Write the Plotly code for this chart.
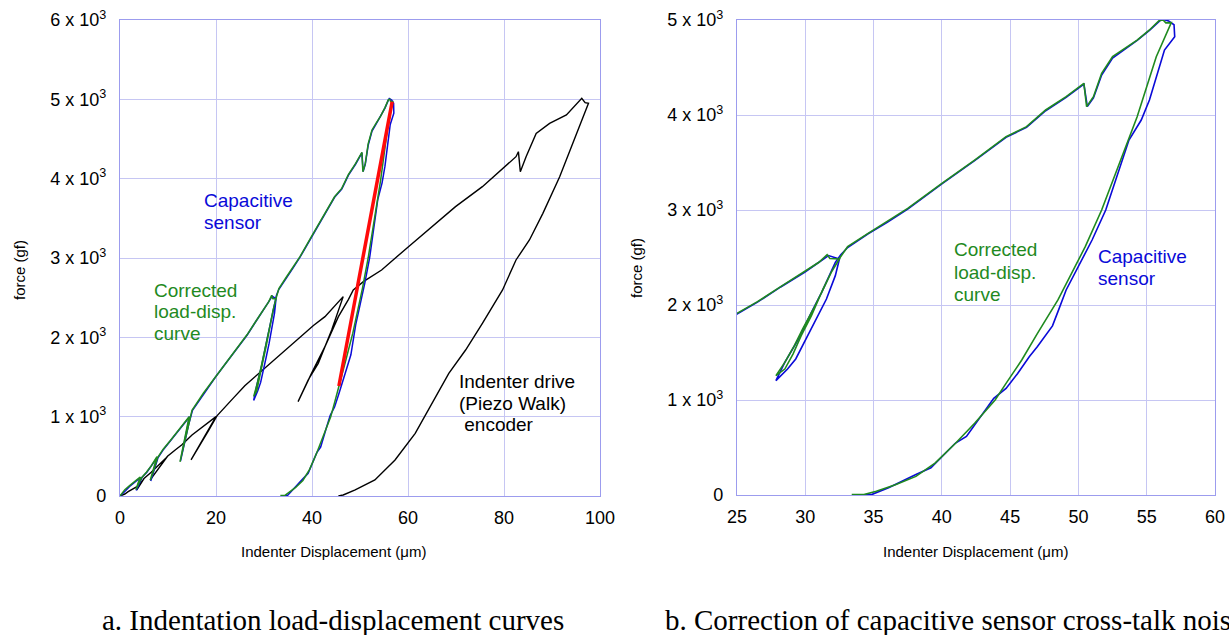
import plotly.graph_objects as go

W, H = 1229, 635

# ---------------- data ----------------
# Corrected load-displacement curve (green)
corr_x = [0, 0.5, 1.0, 2.0, 3.0, 4.2, 3.3, 3.8, 4.5, 5.5, 6.5, 7.7, 6.3, 7.0, 7.8,
          9.0, 10.5, 12.0, 13.5, 14.4, 12.5, 13.3, 14.2, 15.0, 17.4, 19.9, 21.5, 23.5,
          25.0, 26.5, 28.2, 29.95, 31.0, 31.6, 31.8, 32.5,
          31.9, 31.2, 30.6, 29.8, 29.2, 28.5, 27.97, 27.85,
          28.5, 29.1, 29.7, 30.45, 31.3, 31.9, 32.5,
          33.1, 34.6, 36.0, 37.5, 40.0, 42.4, 44.7, 46.2, 47.6, 49.1, 50.4, 50.6, 51.1,
          51.7, 52.5, 53.4, 54.3, 55.2, 55.9, 56.2, 56.4, 56.8,
          55.7, 54.3, 53.1, 51.7, 50.5, 49.4, 48.5, 47.0, 45.85, 44.7, 43.9, 42.4, 41.0,
          39.5, 38.1, 36.6, 35.2, 34.3, 33.4]
corr_y = [0, 40, 80, 130, 180, 240, 80, 140, 230, 300, 380, 495, 200, 320, 480,
          590, 700, 820, 930, 1000, 430, 650, 900, 1080, 1298, 1500, 1638, 1800,
          1912, 2035, 2193, 2350, 2450, 2530, 2490, 2484,
          2344, 2133, 1958, 1747, 1572, 1396, 1291, 1256,
          1326, 1484, 1677, 1888, 2168, 2344, 2490,
          2614, 2754, 2877, 3017, 3281, 3526, 3772, 3877, 4053, 4193, 4333, 4088, 4193,
          4439, 4614, 4702, 4789, 4895, 4993, 5000, 4970, 4972,
          4614, 3982, 3526, 3000, 2614, 2298, 2053, 1702, 1421, 1175, 1000, 755, 545,
          336, 196, 108, 40, 5, 5]

# Capacitive sensor (blue)
cap_x = [0, 0.6, 1.2, 2.0, 3.0, 4.3, 3.4, 3.9, 4.6, 5.6, 6.6, 7.8, 6.4, 7.1, 7.9,
         9.1, 10.6, 12.1, 13.6, 14.5, 12.6, 13.4, 14.3, 15.1, 17.5, 19.9, 21.5, 23.5,
         25.0, 26.5, 28.2, 29.95, 31.0, 31.7, 32.5,
         32.2, 31.55, 31.06, 30.45, 29.7, 29.3, 28.7, 27.85,
         28.5, 29.5, 30.45, 31.2, 32.2, 32.6,
         33.1, 34.6, 36.0, 37.5, 40.0, 42.4, 44.7, 46.2, 47.6, 49.1, 50.4, 50.65, 51.1,
         51.7, 52.5, 53.4, 54.3, 55.2, 55.9, 56.1, 56.6, 57.0, 57.05,
         56.3, 55.2, 54.6, 53.7, 52.6, 52.0, 51.0, 50.0, 49.1, 48.5, 48.1, 47.0, 46.4,
         45.55, 44.7, 43.8, 43.0, 41.8, 41.0, 39.2, 38.1, 36.1, 34.9, 34.0]
cap_y = [0, 30, 70, 120, 170, 235, 70, 140, 235, 300, 380, 490, 190, 320, 480,
         590, 700, 820, 930, 1000, 440, 660, 900, 1080, 1295, 1500, 1630, 1795,
         1905, 2030, 2190, 2345, 2450, 2520, 2484,
         2309, 2063, 1923, 1747, 1537, 1432, 1326, 1204,
         1396, 1642, 1923, 2133, 2449, 2530,
         2605, 2750, 2870, 3010, 3275, 3520, 3765, 3870, 4045, 4185, 4325, 4090, 4180,
         4420, 4600, 4695, 4785, 4890, 4990, 5010, 4990, 4950, 4825,
         4684, 4158, 3947, 3737, 3246, 3000, 2684, 2403, 2158, 1930, 1780, 1563, 1456,
         1279, 1122, 1017, 861, 617, 547, 286, 216, 77, 7, 0]

# Indenter drive (Piezo Walk) encoder (black)
enc_x = [0, 1.0, 1.7, 3.0, 3.8, 4.9, 3.5, 4.2, 5.0, 6.5, 8.0, 9.75, 6.3, 7.5, 8.8, 9.9,
         11.5, 12.9, 15.0, 17.5, 20.0, 14.8, 16.5, 18.5, 20.2,
         21.95, 23.6, 26.0, 29.9, 33.6, 35.5, 37.8, 40.3, 42.7, 45.2, 46.5,
         44.1, 41.3, 39.2, 37.1, 37.4, 39.9, 42.7, 45.5, 47.6,
         48.6, 50.7, 54.5, 60.1, 65.0, 69.9, 75.5, 79.7, 82.5, 83.0, 83.4, 84.6, 86.7,
         89.5, 93.0, 96.2, 96.9, 97.6,
         95.1, 91.6, 88.1, 85.3, 82.5, 79.7, 75.5, 72.0, 68.5, 65.0, 61.5, 57.3, 53.1,
         49.0, 46.5, 45.5]
enc_y = [0, 25, 55, 100, 127, 210, 76, 130, 220, 300, 390, 490, 203, 300, 410, 500,
         580, 645, 770, 880, 1000, 456, 620, 830, 1010,
         1130, 1234, 1390, 1596, 1798, 1894, 2008, 2149, 2261, 2430, 2513,
         2092, 1672, 1462, 1189, 1231, 1546, 1882, 2261, 2479,
         2597, 2702, 2849, 3143, 3395, 3647, 3899, 4130, 4277, 4340, 4088, 4277, 4571,
         4697, 4803, 5013, 4958, 4950,
         4571, 4025, 3563, 3227, 2975, 2597, 2176, 1840, 1546, 1168, 790, 454, 202,
         76, 13, 0]

# Unloading fit (red)
fit_x = [45.6, 51.0, 56.7]
fit_y = [1386, 3150, 4970]

# Axis ticks
left_x_ticks = [0, 20, 40, 60, 80, 100]
left_y_ticks = [0, 1000, 2000, 3000, 4000, 5000, 6000]
left_y_labels = ["0", "1 x 10<sup>3</sup>", "2 x 10<sup>3</sup>", "3 x 10<sup>3</sup>",
                 "4 x 10<sup>3</sup>", "5 x 10<sup>3</sup>", "6 x 10<sup>3</sup>"]
right_x_ticks = [25, 30, 35, 40, 45, 50, 55, 60]
right_y_ticks = [0, 1000, 2000, 3000, 4000, 5000]
right_y_labels = left_y_labels[:6]

# ---------------- styling ----------------
BLUE = "#0a0ad8"
GREEN = "#1f8a1f"
BLACK = "#000000"
RED = "#ff0a0a"
GRID = "#c6c6f3"
FRAME = "#9c9cee"
SANS = "Liberation Sans, Arial, sans-serif"
SERIF = "Liberation Serif, Times New Roman, serif"


def px(x):
    return x / W


def py(y):
    return 1 - y / H


fig = go.Figure()

# left panel
fig.add_trace(go.Scatter(x=enc_x, y=enc_y, mode="lines", line=dict(color=BLACK, width=1.4),
                         xaxis="x", yaxis="y", showlegend=False, name="encoder"))
fig.add_trace(go.Scatter(x=cap_x, y=cap_y, mode="lines", line=dict(color=BLUE, width=1.5),
                         xaxis="x", yaxis="y", showlegend=False, name="capacitive"))
fig.add_trace(go.Scatter(x=corr_x, y=corr_y, mode="lines", line=dict(color=GREEN, width=1.5),
                         xaxis="x", yaxis="y", showlegend=False, name="corrected"))
fig.add_trace(go.Scatter(x=fit_x, y=fit_y, mode="lines", line=dict(color=RED, width=3.5),
                         xaxis="x", yaxis="y", showlegend=False, name="fit"))
# right panel
fig.add_trace(go.Scatter(x=cap_x, y=cap_y, mode="lines", line=dict(color=BLUE, width=1.6),
                         xaxis="x2", yaxis="y2", showlegend=False, name="capacitive"))
fig.add_trace(go.Scatter(x=corr_x, y=corr_y, mode="lines", line=dict(color=GREEN, width=1.6),
                         xaxis="x2", yaxis="y2", showlegend=False, name="corrected"))

axis_common = dict(showgrid=True, gridcolor=GRID, gridwidth=1, showline=True, linecolor=FRAME,
                   linewidth=1.2, mirror=True, zeroline=False, ticks="", ticklen=0,
                   automargin=False,
                   tickfont=dict(family=SANS, size=18, color="black"))
xcommon = dict(axis_common, ticklabelstandoff=5)
ycommon = dict(axis_common, ticklabelstandoff=9)

fig.update_layout(
    width=W, height=H, autosize=False,
    margin=dict(l=0, r=0, t=0, b=0, autoexpand=False),
    paper_bgcolor="white", plot_bgcolor="white",
    xaxis=dict(domain=[px(120), px(600)], range=[0, 100], tickmode="array",
               tickvals=left_x_ticks, anchor="y", **xcommon),
    yaxis=dict(domain=[py(496), py(20)], range=[0, 6000], tickmode="array",
               tickvals=left_y_ticks, ticktext=left_y_labels, anchor="x", **ycommon),
    xaxis2=dict(domain=[px(737), px(1215)], range=[25, 60], tickmode="array",
                tickvals=right_x_ticks, anchor="y2", **xcommon),
    yaxis2=dict(domain=[py(495), py(20)], range=[0, 5000], tickmode="array",
                tickvals=right_y_ticks, ticktext=right_y_labels, anchor="x2", **ycommon),
)

ann = []


def text(x, y, s, color="black", size=19, anchor="left", family=SANS, angle=0):
    ann.append(dict(x=px(x), y=py(y), xref="paper", yref="paper", text=s, showarrow=False,
                    xanchor=anchor, yanchor="middle", textangle=angle, borderpad=0,
                    font=dict(family=family, size=size, color=color), align="left"))


# axis titles
text(333, 551, "Indenter Displacement (μm)", size=15, anchor="center")
text(975, 551, "Indenter Displacement (μm)", size=15, anchor="center")
text(19, 270, "force (gf)", size=15, anchor="center", angle=-90)
text(636, 268, "force (gf)", size=15, anchor="center", angle=-90)

# left annotations
text(203, 200, "Capacitive", BLUE)
text(203, 222, "sensor", BLUE)
text(153, 290, "Corrected", GREEN)
text(153, 311, "load-disp.", GREEN)
text(153, 333, "curve", GREEN)
text(458, 381, "Indenter drive", BLACK)
text(458, 403, "(Piezo Walk)", BLACK)
text(458, 424, " encoder", BLACK)

# right annotations
text(953, 250, "Corrected", GREEN)
text(953, 272, "load-disp.", GREEN)
text(953, 294, "curve", GREEN)
text(1097, 256, "Capacitive", BLUE)
text(1097, 278, "sensor", BLUE)

# captions
text(333, 620, "a. Indentation load-displacement curves", size=29, anchor="center", family=SERIF)
text(664, 620, "b. Correction of capacitive sensor cross-talk noise", size=29, anchor="left",
     family=SERIF)

fig.update_layout(annotations=ann)

fig.write_html("out.html", config={"displayModeBar": False},
               post_script="document.body.style.margin='0';document.body.style.overflow='hidden';")
